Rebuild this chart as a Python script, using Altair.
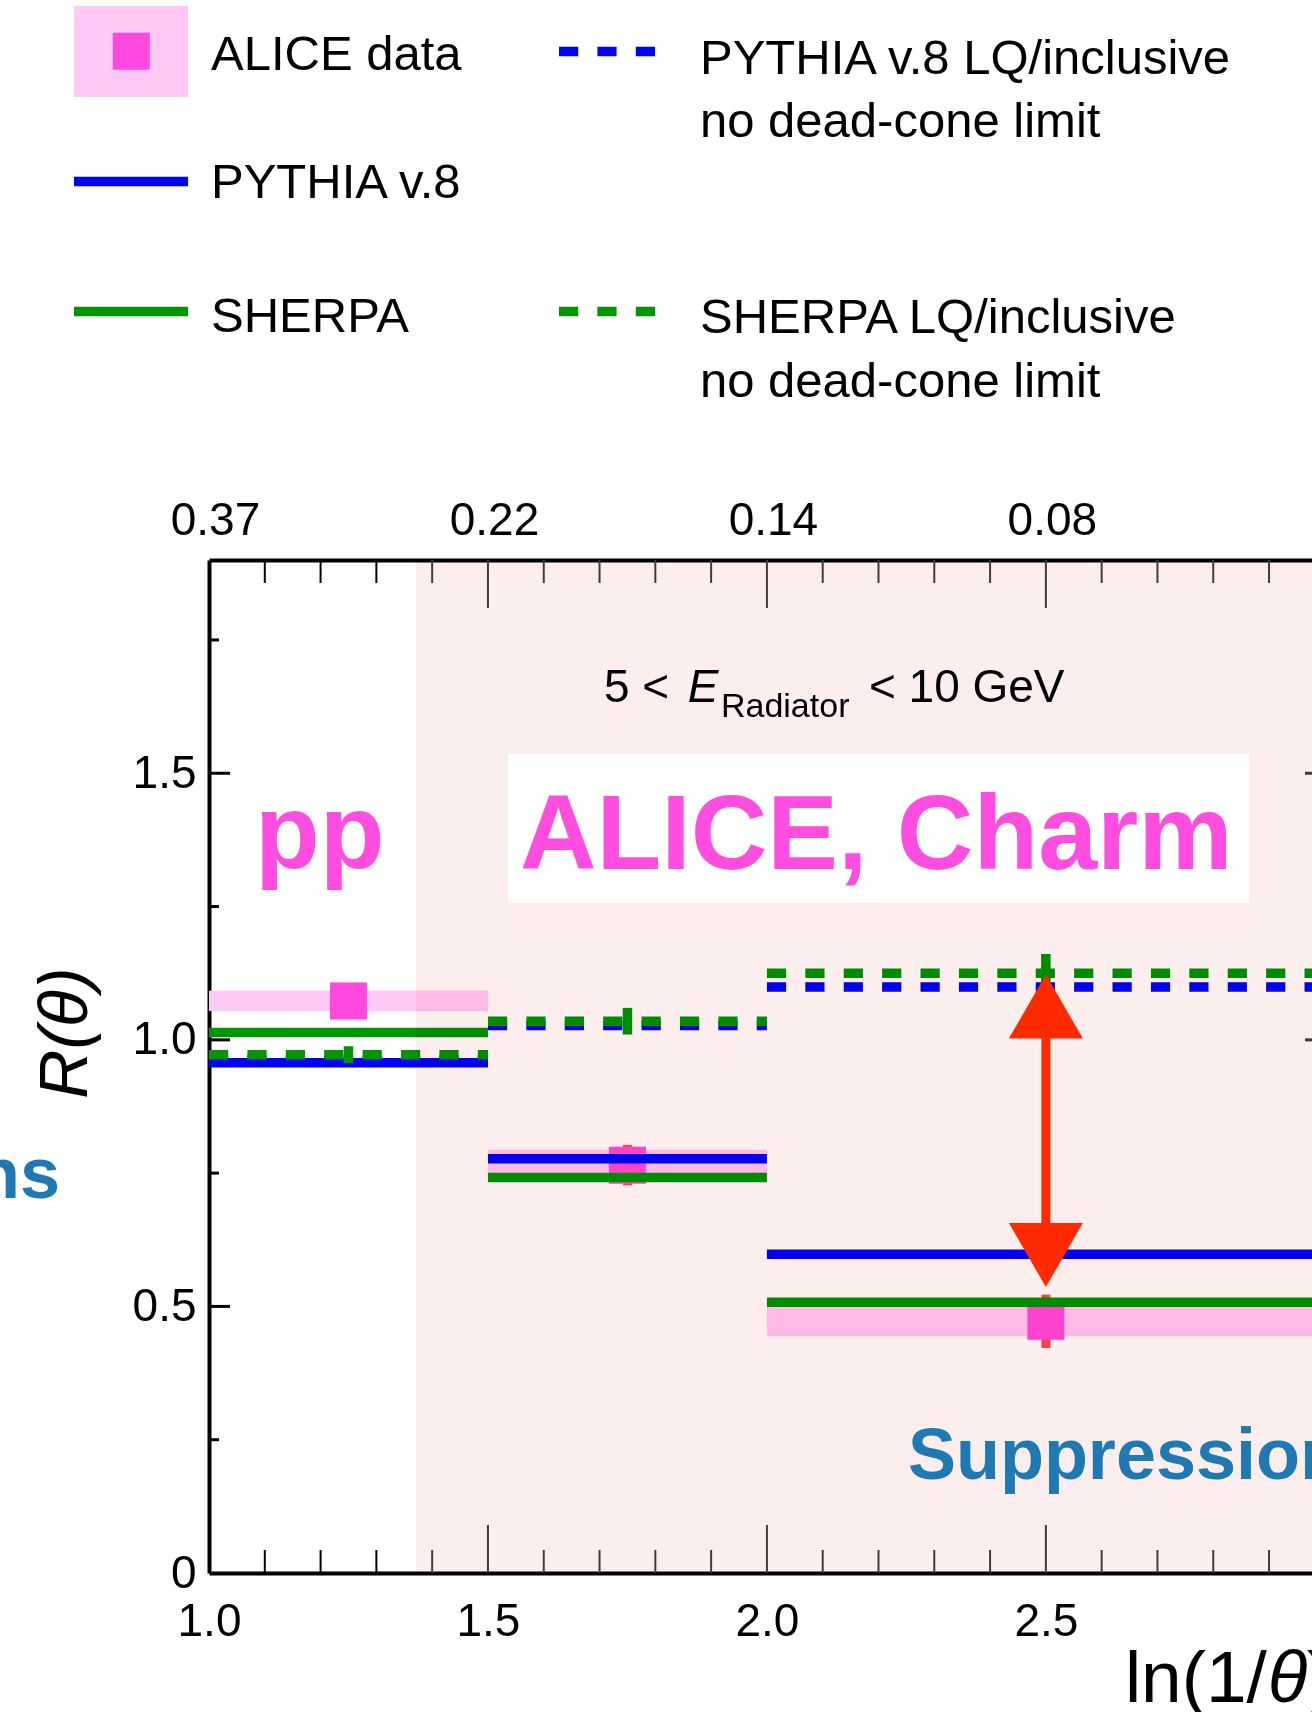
import altair as alt
import pandas as pd

# ------------------------------------------------------------------ data
BIN_LO = [1.0, 1.5, 2.0]
BIN_HI = [1.5, 2.0, 3.0]
BIN_CENTER = [1.25, 1.75, 2.5]

ALICE_VAL = [1.073, 0.765, 0.472]
ALICE_STAT = [0.030, 0.038, 0.050]
ALICE_SYST = [0.019, 0.029, 0.028]

PYTHIA = [0.957, 0.777, 0.598]
SHERPA = [1.014, 0.742, 0.508]
SHERPA_ERR = [0.005, 0.007, 0.008]
PYTHIA_LQ = [0.962, 1.027, 1.099]
SHERPA_LQ = [0.972, 1.035, 1.125]
SHERPA_LQ_ERR = [0.016, 0.025, 0.036]

X_LABEL_VALUES = [1.0, 1.5, 2.0, 2.5]
X_LABELS = ["1.0", "1.5", "2.0", "2.5"]
TOP_LABELS = ["0.37", "0.22", "0.14", "0.08"]
Y_LABEL_VALUES = [0.0, 0.5, 1.0, 1.5]
Y_LABELS = ["0", "0.5", "1.0", "1.5"]
X_MAJOR_TICKS = [1.5, 2.0, 2.5]
X_MINOR_TICKS = [1.1, 1.2, 1.3, 1.4, 1.6, 1.7, 1.8, 1.9,
                 2.1, 2.2, 2.3, 2.4, 2.6, 2.7, 2.8, 2.9]
Y_MAJOR_TICKS = [0.5, 1.0, 1.5]
Y_MINOR_TICKS = [0.25, 0.75, 1.25, 1.75]

REGION_START = 1.371          # start of the shaded region in ln(1/theta)

LEGEND_LABELS = ["ALICE data", "PYTHIA v.8", "SHERPA",
                 "PYTHIA v.8 LQ/inclusive", "no dead-cone limit",
                 "SHERPA LQ/inclusive", "no dead-cone limit"]

# ------------------------------------------------------------------ style / layout
FONT = "Liberation Sans"
BLUE, GREEN = "#0000ff", "#009600"
MAGENTA, PINK, STAT_RED = "#ff48dd", "#ffc8f5", "#ff4545"
REGION, ARROW_RED, SUPP_BLUE, TXT_MAG = "#fdeeee", "#ff2a00", "#1f7ab4", "#ff4ddf"
TICK_IN_REGION = "#4a3c3c"

W, H = 1103, 1013
PAD_L, PAD_T = 209, 560
LW = 9.5
DASH = [19.2, 19.2]

xs = alt.Scale(domain=[1.0, 2.977], nice=False, zero=False)
ys = alt.Scale(domain=[0.0, 1.9], nice=False, zero=False)


def XQ(f):
    return alt.X(f, type="quantitative", scale=xs, axis=None)


def YQ(f):
    return alt.Y(f, type="quantitative", scale=ys, axis=None)


def label_expr(vals, labels):
    expr = "''"
    for v, l in zip(vals[::-1], labels[::-1]):
        expr = f"abs(datum.value - {v}) < 1e-6 ? '{l}' : ({expr})"
    return expr


layers = []

# ---- axes carrier layers first (ticks drawn inward as rules)
def tdf(vals):
    return pd.DataFrame({"t": vals,
                         "col": [TICK_IN_REGION if v > REGION_START else "#000000" for v in vals]})


axis_common = dict(ticks=False, grid=False, domain=True, domainColor="black",
                   domainWidth=4, labelFont=FONT, labelFontSize=46, labelColor="black",
                   labelFlush=False, title=None)

bottom_axis = alt.Axis(orient="bottom", values=X_LABEL_VALUES,
                       labelExpr=label_expr(X_LABEL_VALUES, X_LABELS),
                       labelPadding=26, **axis_common)
top_axis = alt.Axis(orient="top", values=X_LABEL_VALUES,
                    labelExpr=label_expr(X_LABEL_VALUES, TOP_LABELS),
                    labelPadding=16, labelOffset=6, **axis_common)
left_axis = alt.Axis(orient="left", values=Y_LABEL_VALUES,
                     labelExpr=label_expr(Y_LABEL_VALUES, Y_LABELS),
                     labelPadding=13, **axis_common)

tcol = alt.Color("col:N", scale=None)
layers.append(alt.Chart(pd.DataFrame({"t": Y_MAJOR_TICKS})).mark_rule(strokeWidth=3, color="black").encode(
    y=alt.Y("t:Q", scale=ys, axis=left_axis), x=alt.value(0), x2=alt.value(21)))
layers.append(alt.Chart(pd.DataFrame({"t": Y_MINOR_TICKS})).mark_rule(strokeWidth=3, color="black").encode(
    y=YQ("t:Q"), x=alt.value(0), x2=alt.value(10)))
layers.append(alt.Chart(tdf(X_MAJOR_TICKS)).mark_rule(strokeWidth=2).encode(
    x=alt.X("t:Q", scale=xs, axis=bottom_axis), y=alt.value(H), y2=alt.value(H - 48), color=tcol))
layers.append(alt.Chart(tdf(X_MINOR_TICKS)).mark_rule(strokeWidth=2).encode(
    x=XQ("t:Q"), y=alt.value(H), y2=alt.value(H - 23), color=tcol))
layers.append(alt.Chart(tdf(X_MAJOR_TICKS)).mark_rule(strokeWidth=2).encode(
    x=alt.X("t:Q", scale=xs, axis=top_axis), y=alt.value(0), y2=alt.value(48), color=tcol))
layers.append(alt.Chart(tdf(X_MINOR_TICKS)).mark_rule(strokeWidth=2).encode(
    x=XQ("t:Q"), y=alt.value(0), y2=alt.value(23), color=tcol))
layers.append(alt.Chart(pd.DataFrame({"t": Y_MAJOR_TICKS})).mark_rule(strokeWidth=3, color=TICK_IN_REGION).encode(
    y=YQ("t:Q"), x=alt.value(W - 7), x2=alt.value(W)))

# ---- ALICE data
alice = pd.DataFrame(dict(lo=BIN_LO, hi=BIN_HI, c=BIN_CENTER, v=ALICE_VAL,
                          stat=ALICE_STAT, syst=ALICE_SYST))
alice["slo"] = alice.v - alice.syst
alice["shi"] = alice.v + alice.syst
alice["elo"] = alice.v - alice.stat
alice["ehi"] = alice.v + alice.stat

layers.append(alt.Chart(alice).mark_rect(color=PINK).encode(
    x=XQ("lo"), x2="hi", y=YQ("slo"), y2="shi"))
layers.append(alt.Chart(alice).mark_rule(color=STAT_RED, strokeWidth=9).encode(
    x=XQ("c"), y=YQ("elo"), y2="ehi"))
layers.append(alt.Chart(alice).mark_square(size=37 * 37, color=MAGENTA, opacity=1).encode(
    x=XQ("c"), y=YQ("v")))


# ---- MC lines
def mc(vals, color, dashed):
    df = pd.DataFrame(dict(lo=BIN_LO, hi=BIN_HI, v=vals))
    kw = dict(color=color, strokeWidth=LW, strokeCap="butt")
    if dashed:
        kw["strokeDash"] = DASH
    return alt.Chart(df).mark_rule(**kw).encode(x=XQ("lo"), x2="hi", y=YQ("v"))


def mc_err(vals, errs, color):
    df = pd.DataFrame(dict(c=BIN_CENTER, v=vals, e=errs))
    df["lo"] = df.v - df.e
    df["hi"] = df.v + df.e
    return alt.Chart(df).mark_rule(color=color, strokeWidth=LW, strokeCap="butt").encode(
        x=XQ("c"), y=YQ("lo"), y2="hi")


layers += [mc(PYTHIA, BLUE, False), mc(PYTHIA_LQ, BLUE, True),
           mc(SHERPA, GREEN, False), mc(SHERPA_LQ, GREEN, True),
           mc_err(SHERPA, SHERPA_ERR, GREEN), mc_err(SHERPA_LQ, SHERPA_LQ_ERR, GREEN)]

# ---- shaded region (multiply blend over the data)
layers.append(alt.Chart(pd.DataFrame({"a": [REGION_START], "b": [3.0]})).mark_rect(
    color=REGION, blend="multiply").encode(x=XQ("a"), x2="b", y=alt.value(0), y2=alt.value(H)))

# ---- annotations
layers.append(alt.Chart(pd.DataFrame({"a": [1.536], "b": [2.864], "c": [1.2566], "d": [1.536]}))
              .mark_rect(color="white").encode(x=XQ("a"), x2="b", y=YQ("c"), y2="d"))


def txt(rows, **kw):
    df = pd.DataFrame(rows, columns=["label", "x", "y"])
    base = dict(align="left", baseline="alphabetic", font=FONT, color="black")
    base.update(kw)
    return alt.Chart(df).mark_text(**base).encode(x=XQ("x"), y=YQ("y"), text="label:N")


layers.append(txt([("pp", 1.0824, 1.3222), ("ALICE, Charm", 1.5573, 1.3203)],
                  fontSize=106, fontWeight="bold", color=TXT_MAG))
layers.append(txt([("5 <", 1.7079, 1.6335), ("< 10 GeV", 2.1828, 1.6335)], fontSize=46))
layers.append(txt([("E", 1.8580, 1.6335)], fontSize=46, fontStyle="italic"))
layers.append(txt([("Radiator", 1.9176, 1.6054)], fontSize=34))
layers.append(txt([("Suppression", 2.2527, 0.1763)], fontSize=72, fontWeight="bold",
                  color=SUPP_BLUE))
layers.append(txt([("ns", 0.733, 0.7033)], fontSize=72, fontWeight="bold",
                  color=SUPP_BLUE, align="right"))

# ---- red double arrow
arrow = pd.DataFrame({"x": [2.5], "y0": [0.62], "y1": [1.04], "yu": [1.0625], "yd": [0.5964]})
layers.append(alt.Chart(arrow).mark_rule(color=ARROW_RED, strokeWidth=9).encode(
    x=XQ("x"), y=YQ("y0"), y2="y1"))
layers.append(alt.Chart(arrow).mark_point(shape="triangle-up", size=5476, filled=True,
                                          color=ARROW_RED, opacity=1).encode(x=XQ("x"), y=YQ("yu")))
layers.append(alt.Chart(arrow).mark_point(shape="triangle-down", size=5476, filled=True,
                                          color=ARROW_RED, opacity=1).encode(x=XQ("x"), y=YQ("yd")))

# ---- axis titles (as text)
layers.append(txt([("R(θ)", 0.7455, 1.0128)], fontSize=68, fontStyle="italic",
                  angle=270, align="center", baseline="middle"))
layers.append(txt([("ln(1/", 2.6416, -0.2419), (")", 2.9677, -0.2419)], fontSize=73))
layers.append(txt([("θ", 2.8978, -0.2419)], fontSize=73, fontStyle="italic"))

# ---- legend (pixel layout above the plot)
LEG_TEXT_XY = [(211, 70), (211, 198), (211, 332), (700, 74), (700, 137), (700, 333), (700, 397)]
leg_txt = pd.DataFrame({"label": LEGEND_LABELS,
                        "px": [p[0] - PAD_L for p in LEG_TEXT_XY],
                        "py": [p[1] - PAD_T for p in LEG_TEXT_XY]})
PX = lambda f: alt.X(f, type="quantitative", scale=None, axis=None)
PY = lambda f: alt.Y(f, type="quantitative", scale=None, axis=None)
layers.append(alt.Chart(leg_txt).mark_text(align="left", baseline="alphabetic", font=FONT,
                                           fontSize=49, color="black").encode(
    x=PX("px"), y=PY("py"), text="label:N"))

leg_box = pd.DataFrame({"x0": [74 - PAD_L], "x1": [188 - PAD_L], "y0": [6 - PAD_T], "y1": [97 - PAD_T],
                        "cx": [131.3 - PAD_L], "cy": [51.3 - PAD_T]})
layers.append(alt.Chart(leg_box).mark_rect(color=PINK).encode(x=PX("x0"), x2="x1", y=PY("y0"), y2="y1"))
layers.append(alt.Chart(leg_box).mark_square(size=37 * 37, color=MAGENTA, opacity=1).encode(
    x=PX("cx"), y=PY("cy")))

leg_solid = pd.DataFrame({"x0": [74 - PAD_L] * 2, "x1": [188 - PAD_L] * 2,
                          "y": [181.5 - PAD_T, 311.5 - PAD_T], "col": [BLUE, GREEN]})
leg_dash = pd.DataFrame({"x0": [559 - PAD_L] * 2, "x1": [655 - PAD_L] * 2,
                         "y": [51.5 - PAD_T, 311.5 - PAD_T], "col": [BLUE, GREEN]})
layers.append(alt.Chart(leg_solid).mark_rule(strokeWidth=LW, strokeCap="butt").encode(
    x=PX("x0"), x2="x1", y=PY("y"), color=alt.Color("col:N", scale=None)))
layers.append(alt.Chart(leg_dash).mark_rule(strokeWidth=LW, strokeCap="butt", strokeDash=DASH).encode(
    x=PX("x0"), x2="x1", y=PY("y"), color=alt.Color("col:N", scale=None)))

chart = alt.layer(*layers).resolve_axis(x="independent", y="independent").properties(
    width=W, height=H,
    padding={"left": PAD_L, "top": PAD_T, "right": 0, "bottom": 139},
    autosize=alt.AutoSizeParams(type="none"),
    background="white",
).configure_view(strokeWidth=0)

chart.save("out.html", embed_options={"renderer": "svg", "actions": False})
